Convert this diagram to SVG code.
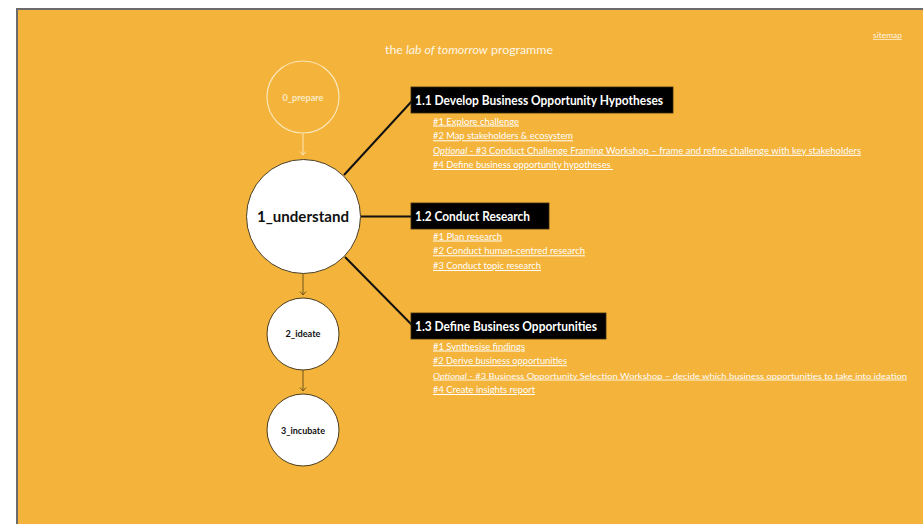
<svg xmlns="http://www.w3.org/2000/svg" width="923" height="524" viewBox="0 0 923 524">
  <style>
    .bg { fill: #F4B33A; }
    .hdr { font-family: Lato, "Liberation Sans", sans-serif; fill: #FFF6E6; }
    .title { font-family: Lato, "Liberation Sans", sans-serif; font-weight: bold; font-size: 13px; fill: #FFFFFF; }
    .tbox { fill: #000000; stroke: #3a2c10; stroke-width: 0.8; }
    .item { font-family: Lato, "Liberation Sans", sans-serif; font-size: 10px; fill: #FFFFFF; text-decoration: underline; }
    .item.long { font-size: 8.4px; }
    .node { fill: #FFFFFF; stroke: #4a3d20; stroke-width: 1; }
    .nlabel { font-family: Lato, "Liberation Sans", sans-serif; font-weight: bold; fill: #111111; text-anchor: middle; }
    .ghost { fill: none; stroke: #FBE6B8; stroke-width: 1.2; }
    .glabel { font-family: Lato, "Liberation Sans", sans-serif; font-weight: bold; font-size: 8.5px; fill: #FBEBC6; text-anchor: middle; }
    .branch { stroke: #111111; stroke-width: 2; fill: none; }
    .flow { stroke: #6e5520; stroke-width: 1; fill: none; marker-end: url(#arr); }
    .flowg { stroke: #FBE6B8; stroke-width: 1; fill: none; marker-end: url(#arrg); }
  </style>
  <defs>
    <marker id="arr" markerWidth="8" markerHeight="8" refX="4" refY="4" orient="auto" markerUnits="userSpaceOnUse">
      <path d="M0.5,1 L4,4 L0.5,7" fill="none" stroke="#6e5520" stroke-width="1"/>
    </marker>
    <marker id="arrg" markerWidth="8" markerHeight="8" refX="4" refY="4" orient="auto" markerUnits="userSpaceOnUse">
      <path d="M0.5,1 L4,4 L0.5,7" fill="none" stroke="#FBE6B8" stroke-width="1"/>
    </marker>
  </defs>

  <rect x="0" y="0" width="923" height="524" fill="#FFFFFF"/>
  <rect x="16" y="8" width="907" height="516" fill="#6b6b6b"/>
  <rect class="bg" x="18" y="10" width="905" height="514"/>

  <text class="hdr" x="385" y="54" font-size="12" textLength="168" lengthAdjust="spacingAndGlyphs">the <tspan font-style="italic">lab of tomorrow</tspan> programme</text>
  <text class="hdr" x="873" y="38" font-size="7" text-decoration="underline" textLength="29" lengthAdjust="spacingAndGlyphs">sitemap</text>

  <g id="connectors">
    <line class="branch" x1="344" y1="175" x2="412" y2="101"/>
    <line class="branch" x1="361" y1="216.5" x2="412" y2="216.5"/>
    <line class="branch" x1="345" y1="257" x2="412" y2="325"/>
    <line class="flowg" x1="303" y1="133" x2="303" y2="155"/>
    <line class="flow" x1="303" y1="274" x2="303" y2="295"/>
    <line class="flow" x1="303" y1="370" x2="303" y2="391"/>
  </g>

  <g id="node-0-prepare">
    <circle class="ghost" cx="303" cy="97" r="36"/>
    <text class="glabel" x="303" y="100.5" textLength="41" lengthAdjust="spacingAndGlyphs">0_prepare</text>
  </g>

  <g id="node-1-understand">
    <circle class="node" cx="303.5" cy="216.5" r="57" stroke="#111111" stroke-width="2"/>
    <text class="nlabel" x="303" y="222" font-size="15.5" textLength="92" lengthAdjust="spacingAndGlyphs">1_understand</text>
  </g>

  <g id="node-2-ideate">
    <circle class="node" cx="303" cy="334" r="36"/>
    <text class="nlabel" x="303" y="337" font-size="8.5" textLength="35" lengthAdjust="spacingAndGlyphs">2_ideate</text>
  </g>

  <g id="node-3-incubate">
    <circle class="node" cx="303" cy="430" r="36"/>
    <text class="nlabel" x="303" y="433.5" font-size="8.5" textLength="44" lengthAdjust="spacingAndGlyphs">3_incubate</text>
  </g>

  <g id="step-1-1">
    <rect class="tbox" x="411" y="87" width="262" height="26"/>
    <text class="title" x="415" y="105" textLength="248" lengthAdjust="spacingAndGlyphs">1.1 Develop Business Opportunity Hypotheses</text>
    <text class="item" x="433" y="124.5" textLength="86" lengthAdjust="spacingAndGlyphs">#1 Explore challenge</text>
    <text class="item" x="433" y="139.3" textLength="140" lengthAdjust="spacingAndGlyphs">#2 Map stakeholders &amp; ecosystem</text>
    <text class="item" x="433" y="153.8" textLength="428" lengthAdjust="spacingAndGlyphs"><tspan font-style="italic">Optional</tspan> - #3 Conduct Challenge Framing Workshop – frame and refine challenge with key stakeholders</text>
    <text class="item" x="433" y="168" textLength="180" lengthAdjust="spacingAndGlyphs" xml:space="preserve">#4 Define business opportunity hypotheses </text>
  </g>

  <g id="step-1-2">
    <rect class="tbox" x="411" y="203" width="138" height="26"/>
    <text class="title" x="415" y="221" textLength="115" lengthAdjust="spacingAndGlyphs">1.2 Conduct Research</text>
    <text class="item" x="433" y="239.5" textLength="69" lengthAdjust="spacingAndGlyphs">#1 Plan research</text>
    <text class="item" x="433" y="254.3" textLength="152" lengthAdjust="spacingAndGlyphs">#2 Conduct human-centred research</text>
    <text class="item" x="433" y="269" textLength="108" lengthAdjust="spacingAndGlyphs">#3 Conduct topic research</text>
  </g>

  <g id="step-1-3">
    <rect class="tbox" x="411" y="313" width="195" height="26"/>
    <text class="title" x="415" y="331" textLength="182" lengthAdjust="spacingAndGlyphs">1.3 Define Business Opportunities</text>
    <text class="item" x="433" y="349.5" textLength="92" lengthAdjust="spacingAndGlyphs">#1 Synthesise findings</text>
    <text class="item" x="433" y="364.2" textLength="134" lengthAdjust="spacingAndGlyphs">#2 Derive business opportunities</text>
    <text class="item long" x="433" y="378.6" textLength="474" lengthAdjust="spacingAndGlyphs"><tspan font-style="italic">Optional</tspan> - #3 Business Opportunity Selection Workshop – decide which business opportunities to take into ideation</text>
    <text class="item" x="433" y="393" textLength="102" lengthAdjust="spacingAndGlyphs">#4 Create insights report</text>
  </g>
</svg>
